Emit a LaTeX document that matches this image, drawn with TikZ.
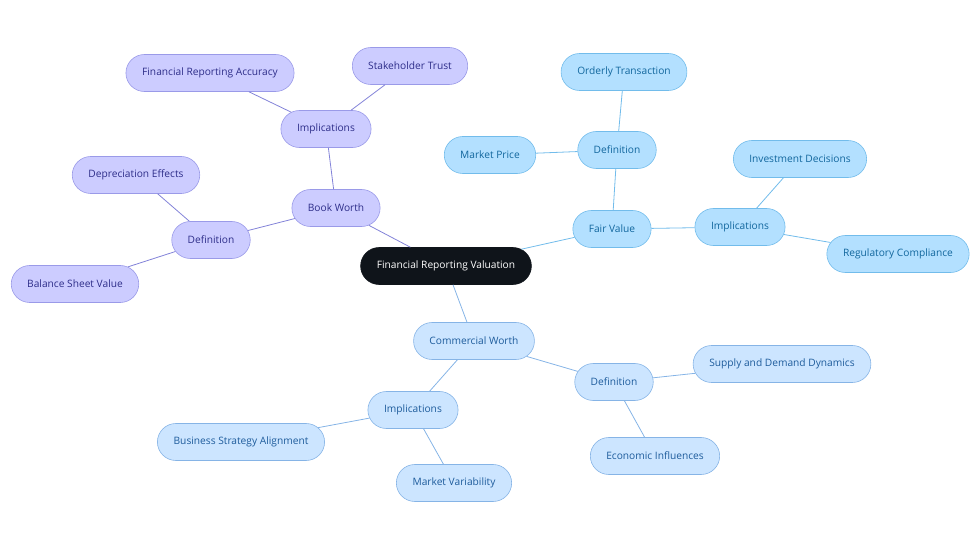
\documentclass[tikz,border=0pt]{standalone}
\usepackage{fontspec}
\setmainfont{Open Sans}
\usetikzlibrary{shapes.misc}

\definecolor{rootfill}{HTML}{0F141A}
\definecolor{bwfill}{HTML}{CCCCFF}
\definecolor{bwline}{HTML}{9A9AE8}
\definecolor{bwedge}{HTML}{8282D8}
\definecolor{bwtext}{HTML}{2E2E8A}
\definecolor{fvfill}{HTML}{B3E0FF}
\definecolor{fvline}{HTML}{72BCEB}
\definecolor{fvtext}{HTML}{12679E}
\definecolor{cwfill}{HTML}{CCE5FF}
\definecolor{cwline}{HTML}{86B4E6}
\definecolor{cwtext}{HTML}{1E5C9C}

\tikzset{
  pill/.style={rounded rectangle, minimum height=37pt, inner xsep=15.5pt,
    font=\fontsize{10.2}{12}\selectfont, line width=0.6pt},
  rootbox/.style={pill, fill=rootfill, draw=rootfill, text=white},
  bwbox/.style={pill, fill=bwfill, draw=bwline, text=bwtext},
  fvbox/.style={pill, fill=fvfill, draw=fvline, text=fvtext},
  cwbox/.style={pill, fill=cwfill, draw=cwline, text=cwtext},
  bwlink/.style={draw=bwedge, line width=0.8pt},
  fvlink/.style={draw=fvline, line width=0.8pt},
  cwlink/.style={draw=cwline, line width=0.8pt}
}

\begin{document}
\begin{tikzpicture}[x=1pt,y=-1pt]
  %%%%% START %%%%%
  \useasboundingbox (0,0) rectangle (980,553);

  \node[rootbox] (root) at (446,266) {Financial Reporting Valuation};

  % book worth branch
  \node[bwbox] (bw) at (336,208) {Book Worth};
  \node[bwbox] (bwimp) at (326,129) {Implications};
  \node[bwbox] (fra) at (210,73) {Financial Reporting Accuracy};
  \node[bwbox] (trust) at (410,66) {Stakeholder Trust};
  \node[bwbox] (bwdef) at (211,240) {Definition};
  \node[bwbox] (dep) at (136,175) {Depreciation Effects};
  \node[bwbox] (bsv) at (75,284) {Balance Sheet Value};

  % fair value branch
  \node[fvbox] (fv) at (612,229) {Fair Value};
  \node[fvbox] (fvdef) at (617,150) {Definition};
  \node[fvbox] (orderly) at (624,72) {Orderly Transaction};
  \node[fvbox] (mprice) at (490,155) {Market Price};
  \node[fvbox] (fvimp) at (740,227) {Implications};
  \node[fvbox] (invest) at (800,159) {Investment Decisions};
  \node[fvbox] (reg) at (898,254) {Regulatory Compliance};

  % commercial worth branch
  \node[cwbox] (cw) at (474,341) {Commercial Worth};
  \node[cwbox] (cwdef) at (614,382) {Definition};
  \node[cwbox] (supply) at (782,364) {Supply and Demand Dynamics};
  \node[cwbox] (econ) at (655,456) {Economic Influences};
  \node[cwbox] (cwimp) at (413,410) {Implications};
  \node[cwbox] (bsa) at (241,442) {Business Strategy Alignment};
  \node[cwbox] (mvar) at (454,483) {Market Variability};

  \draw[bwlink] (root) -- (bw);
  \draw[bwlink] (bw) -- (bwimp);
  \draw[bwlink] (bwimp) -- (fra);
  \draw[bwlink] (bwimp) -- (trust);
  \draw[bwlink] (bw) -- (bwdef);
  \draw[bwlink] (bwdef) -- (dep);
  \draw[bwlink] (bwdef) -- (bsv);

  \draw[fvlink] (root) -- (fv);
  \draw[fvlink] (fv) -- (fvdef);
  \draw[fvlink] (fvdef) -- (orderly);
  \draw[fvlink] (fvdef) -- (mprice);
  \draw[fvlink] (fv) -- (fvimp);
  \draw[fvlink] (fvimp) -- (invest);
  \draw[fvlink] (fvimp) -- (reg);

  \draw[cwlink] (root) -- (cw);
  \draw[cwlink] (cw) -- (cwdef);
  \draw[cwlink] (cwdef) -- (supply);
  \draw[cwlink] (cwdef) -- (econ);
  \draw[cwlink] (cw) -- (cwimp);
  \draw[cwlink] (cwimp) -- (bsa);
  \draw[cwlink] (cwimp) -- (mvar);
  %%%%% END %%%%%
\end{tikzpicture}
\end{document}
